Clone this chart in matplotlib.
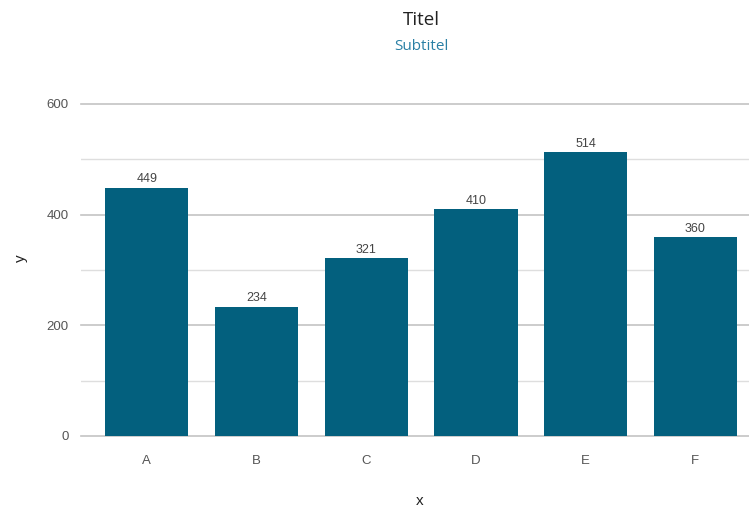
import numpy as np
import matplotlib
matplotlib.use("Agg")
import matplotlib.pyplot as plt

# data
categories = ["A", "B", "C", "D", "E", "F"]
values = [449, 234, 321, 410, 514, 360]
major_ticks = [0, 200, 400, 600]
minor_ticks = [100, 300, 500]

bar_color = "#03607e"
sub_color = "#2a80a5"

plt.rcParams["font.family"] = ["Liberation Sans", "DejaVu Sans"]

fig = plt.figure(figsize=(7.49, 5.13), dpi=100)
ax = fig.add_axes([81 / 749, 1 - 436 / 513, 1 - 81 / 749, (436 - 104) / 513])

x = np.arange(len(categories))
bars = ax.bar(x, values, width=0.76, color=bar_color, zorder=3)

ax.set_xlim(-0.6, 5.49)
ax.set_ylim(0, 600)
ax.set_yticks(major_ticks)
ax.set_yticks(minor_ticks, minor=True)
ax.set_xticks(x)
ax.set_xticklabels(categories)

ax.grid(axis="y", which="major", color="#c4c4c4", linewidth=1.2, zorder=0)
ax.grid(axis="y", which="minor", color="#dedede", linewidth=1.0, zorder=0)
for gl in ax.get_ygridlines():
    gl.set_clip_on(False)

for s in ax.spines.values():
    s.set_visible(False)
ax.tick_params(axis="both", which="both", length=0, colors="#555555", labelsize=9.5)
ax.tick_params(axis="x", pad=14)
ax.tick_params(axis="y", pad=9)

# axis titles placed as figure text so nothing is cut off
fig.text(420 / 749, 1 - 501 / 513, "x", ha="center", va="center",
         fontsize=11, color="#222222")
fig.text(21 / 749, 1 - 258 / 513, "y", ha="center", va="center",
         fontsize=11, color="#222222", rotation=90)

# value labels
for b in bars:
    h = b.get_height()
    ax.annotate(f"{h:.0f}", xy=(b.get_x() + b.get_width() / 2, h),
                xytext=(0, 1.5), textcoords="offset points",
                ha="center", va="bottom", fontsize=9, color="#444444",
                bbox=dict(boxstyle="square,pad=0.15", fc="white", ec="none"),
                zorder=4)

fig.text(421 / 749, 1 - 20 / 513, "Titel", ha="center", va="center",
         fontsize=13.5, color="#222222", family=["Open Sans", "DejaVu Sans"])
fig.text(421 / 749, 1 - 47 / 513, "Subtitel", ha="center", va="center",
         fontsize=11, color=sub_color, family=["Open Sans", "DejaVu Sans"])

fig.savefig("out.png", dpi=100)
